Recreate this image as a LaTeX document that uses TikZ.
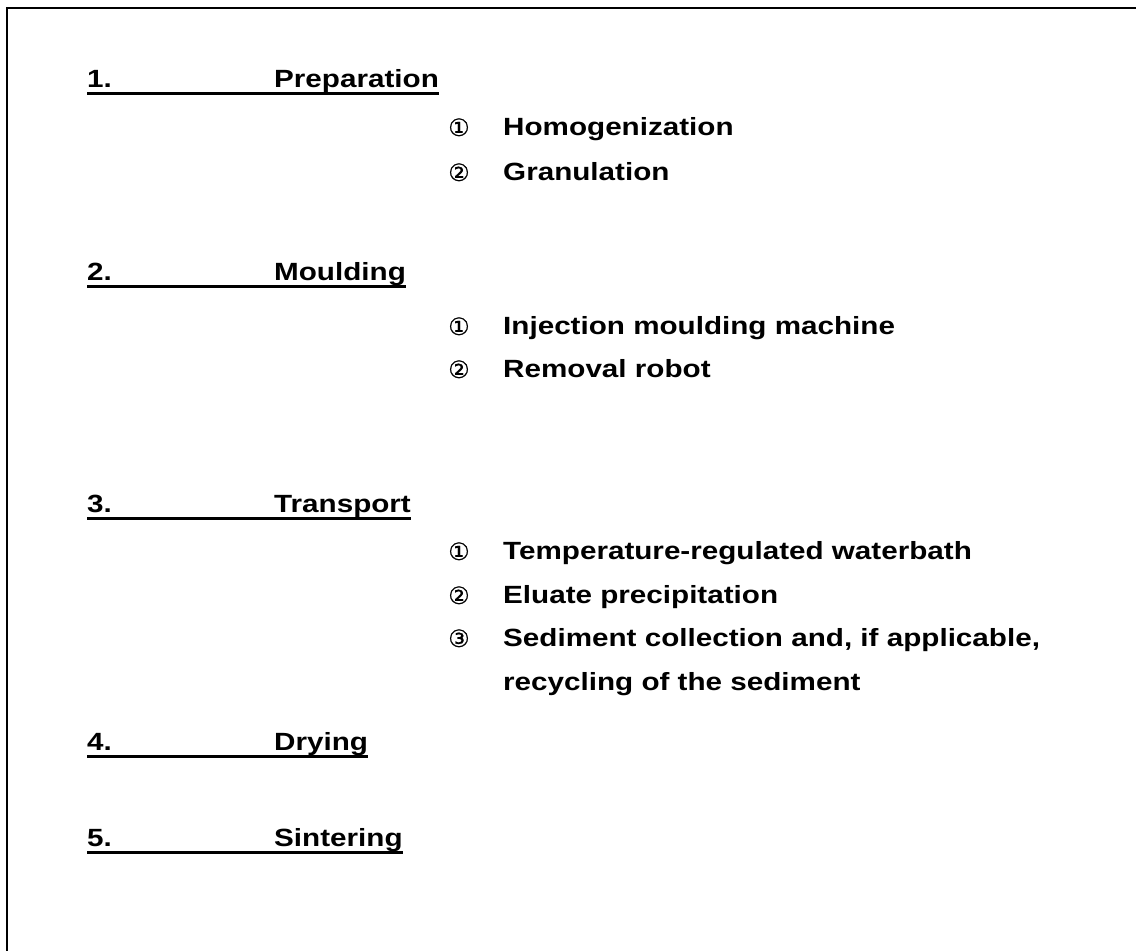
\documentclass[tikz,border=0pt]{standalone}
\usepackage{fontspec}
\setmainfont{Liberation Sans}[FakeStretch=1.19]
\newfontfamily\circfont{DejaVu Sans}[FakeBold=0.5]
\begin{document}
\begin{tikzpicture}[x=1pt,y=-1pt,
  txt/.style={anchor=base west,inner sep=0pt,font=\fontsize{24.9}{28}\selectfont\bfseries},
  circ/.style={anchor=base,inner sep=0pt,yshift=-1pt,font=\circfont\fontsize{24}{28}\selectfont},
  uline/.style={line width=3pt}]
\useasboundingbox (0,0) rectangle (1136,951);
\coordinate (fa) at (7,951);
\coordinate (fb) at (7,8);
\coordinate (fc) at (1136,8);
\draw[line width=2.5pt] (fa) -- (fb) -- (fc);

% headings
\foreach \n/\t/\y in {1/Preparation/87,2/Moulding/280,3/Transport/512,4/Drying/750,5/Sintering/846}{
  \node[txt] (n\n) at (87,\y) {\n.};
  \node[txt] (h\n) at (274,\y) {\t};
  \draw[uline] ([yshift=-6pt]n\n.base west) -- ([yshift=-6pt]h\n.base east);
}

% items
\node[circ] (c11) at (459,135) {①};
\node[txt] (t11) at (503,135) {Homogenization};
\node[circ] (c12) at (459,180) {②};
\node[txt] (t12) at (503,180) {Granulation};

\node[circ] (c21) at (459,334) {①};
\node[txt] (t21) at (503,334) {Injection moulding machine};
\node[circ] (c22) at (459,377) {②};
\node[txt] (t22) at (503,377) {Removal robot};

\node[circ] (c31) at (459,559) {①};
\node[txt] (t31) at (503,559) {Temperature-regulated waterbath};
\node[circ] (c32) at (459,603) {②};
\node[txt] (t32) at (503,603) {Eluate precipitation};
\node[circ] (c33) at (459,646) {③};
\node[txt] (t33) at (503,646) {Sediment collection and, if applicable,};
\node[txt] (t34) at (503,690) {recycling of the sediment};
\end{tikzpicture}
\end{document}
